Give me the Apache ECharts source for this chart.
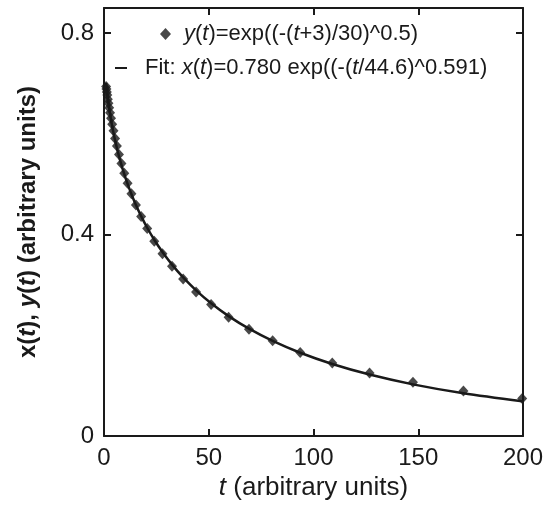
<!DOCTYPE html>
<html>
<head>
<meta charset="utf-8">
<script src="https://cdn.jsdelivr.net/npm/echarts@6/dist/echarts.min.js"></script>
<style>
  html, body { margin: 0; padding: 0; background: #fff; }
  #chart { width: 545px; height: 515px; }
</style>
</head>
<body>
<div id="chart"></div>
<script>
// t sample points (read from the diamonds, roughly log spaced)
const tVals = [1.0, 1.16, 1.35, 1.58, 1.83, 2.13, 2.48, 2.88, 3.36, 3.9, 4.54, 5.28, 6.15, 7.15,
  8.32, 9.68, 11.26, 13.1, 15.24, 17.73, 20.62, 23.99, 27.91, 32.47, 37.78, 43.95, 51.13,
  59.48, 69.2, 80.5, 93.66, 108.96, 126.76, 147.47, 171.56, 199.6];
// y(t) markers
const yVals = [0.694, 0.689, 0.683, 0.677, 0.669, 0.661, 0.652, 0.642, 0.631, 0.619, 0.606,
  0.591, 0.576, 0.559, 0.541, 0.522, 0.502, 0.481, 0.459, 0.436, 0.412, 0.387, 0.362, 0.337,
  0.312, 0.286, 0.261, 0.236, 0.212, 0.189, 0.166, 0.145, 0.125, 0.1065, 0.0896, 0.0744];
// fitted curve x(t)
const fitVals = [0.7015, 0.6947, 0.6871, 0.6791, 0.6703, 0.6608, 0.6507, 0.6397, 0.628, 0.6153,
  0.6018, 0.5874, 0.572, 0.5557, 0.5384, 0.52, 0.5006, 0.4802, 0.4589, 0.4367, 0.4136, 0.3898,
  0.3653, 0.3403, 0.3149, 0.2893, 0.2636, 0.2381, 0.2131, 0.1888, 0.1653, 0.143, 0.122, 0.1025,
  0.0848, 0.0689];

const xTicks = [0, 50, 100, 150, 200];
const yTicks = [0, 0.4, 0.8];

const dataName = 'y(t)=exp((-(t+3)/30)^0.5)';
const fitName = 'Fit: x(t)=0.780 exp((-(t/44.6)^0.591)';

const font = 'Liberation Sans, Arial, Helvetica, sans-serif';
const ink = '#1a1a1a';

const chart = echarts.init(document.getElementById('chart'));

const legendRich = {
  i: { fontStyle: 'italic', fontSize: 22, fontFamily: font, color: ink }
};
const legendText = {
  [dataName]: '{i|y}({i|t})=exp((-({i|t}+3)/30)^0.5)',
  [fitName]: 'Fit: {i|x}({i|t})=0.780 exp((-({i|t}/44.6)^0.591)'
};

const frameAxis = {
  min: 0,
  axisLine: { show: true, onZero: false, lineStyle: { color: ink, width: 2 } },
  axisTick: { show: true, inside: true, length: 7, lineStyle: { color: ink, width: 2 } },
  splitLine: { show: false }
};

const option = {
  backgroundColor: '#fff',
  animation: false,
  textStyle: { fontFamily: font, color: ink },
  grid: { left: 104, right: 22, top: 8, bottom: 79, containLabel: false, outerBoundsMode: 'none' },
  legend: [
    {
      data: [{ name: dataName, icon: 'diamond' }],
      left: 155, top: 18,
      itemWidth: 11, itemHeight: 12, itemGap: 0,
      selectedMode: false,
      formatter: n => legendText[n],
      textStyle: { fontSize: 22, fontFamily: font, color: ink, rich: legendRich, padding: [0, 0, 0, 8] }
    },
    {
      data: [{ name: fitName, icon: 'rect' }],
      left: 110, top: 52,
      itemWidth: 12, itemHeight: 2, itemGap: 0,
      selectedMode: false,
      formatter: n => legendText[n],
      textStyle: { fontSize: 22, fontFamily: font, color: ink, rich: legendRich, padding: [0, 0, 0, 13] }
    }
  ],
  xAxis: [
    Object.assign({}, frameAxis, {
      type: 'value', position: 'bottom', max: 200, interval: 50,
      axisLabel: {
        fontSize: 24, color: ink, margin: 10, fontFamily: font,
        formatter: v => (xTicks.indexOf(v) >= 0 ? String(v) : '')
      },
      name: '{i|t} (arbitrary units)',
      nameLocation: 'middle', nameGap: 38,
      nameTextStyle: {
        fontSize: 26, color: ink, fontFamily: font,
        rich: { i: { fontStyle: 'italic', fontSize: 26, fontFamily: font, color: ink } }
      }
    }),
    Object.assign({}, frameAxis, {
      type: 'value', position: 'top', max: 200, interval: 50,
      axisLabel: { show: false }
    })
  ],
  yAxis: [
    Object.assign({}, frameAxis, {
      type: 'value', position: 'left', max: 0.85, interval: 0.4,
      axisLabel: {
        fontSize: 24, color: ink, margin: 10, fontFamily: font, showMaxLabel: false,
        formatter: v => {
          const hit = yTicks.find(k => Math.abs(k - v) < 1e-6);
          return hit === undefined ? '' : (hit === 0 ? '0' : hit.toFixed(1));
        }
      },
      name: '{b|x(}{bi|t}{b|), }{bi|y}{b|(}{bi|t}{b|) (arbitrary units)}',
      nameLocation: 'middle', nameGap: 64, nameRotate: 90,
      nameTextStyle: {
        rich: {
          b: { fontWeight: 'bold', fontSize: 24, fontFamily: font, color: ink },
          bi: { fontWeight: 'bold', fontStyle: 'italic', fontSize: 24, fontFamily: font, color: ink }
        }
      }
    }),
    Object.assign({}, frameAxis, {
      type: 'value', position: 'right', max: 0.85, interval: 0.4,
      axisLabel: { show: false }
    })
  ],
  series: [
    {
      name: fitName,
      type: 'line',
      data: tVals.map((t, i) => [t, fitVals[i]]),
      showSymbol: false,
      symbol: 'none',
      smooth: 0.3,
      lineStyle: { color: ink, width: 2.5 },
      itemStyle: { color: ink },
      z: 2
    },
    {
      name: dataName,
      type: 'scatter',
      data: tVals.map((t, i) => [t, yVals[i]]),
      symbol: 'diamond',
      symbolSize: [10, 11],
      itemStyle: { color: ink },
      z: 3
    }
  ]
};

chart.setOption(option);
</script>
</body>
</html>
